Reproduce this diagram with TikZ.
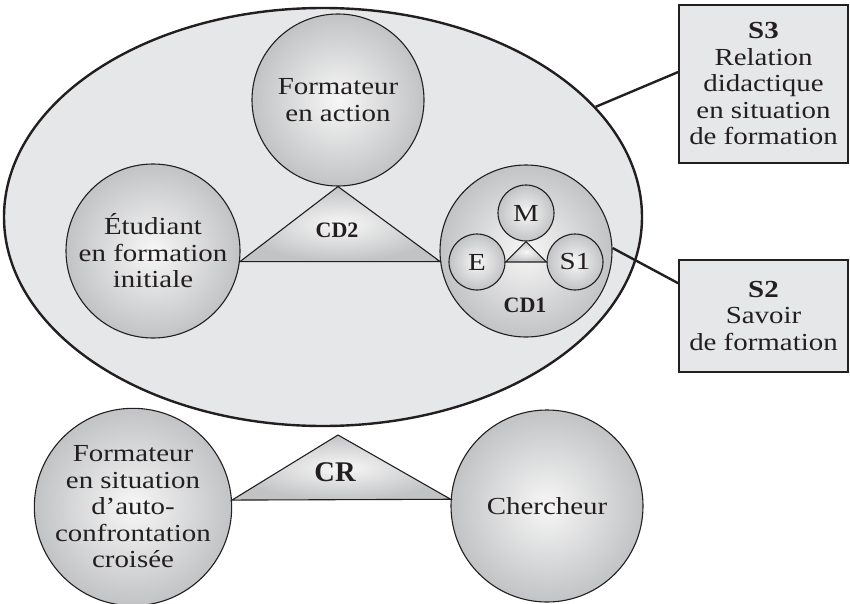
\documentclass[tikz,border=0pt]{standalone}
\usepackage{fontspec}
\setmainfont{Liberation Serif}
\newfontfamily\widefont{Liberation Serif}[FakeStretch=1.18]
\usetikzlibrary{shapes.geometric}

\definecolor{ink}{HTML}{231F20}
\definecolor{pale}{HTML}{E6E7E8}
\definecolor{rimgrey}{HTML}{C2C3C5}
\definecolor{glow}{HTML}{F7F7F7}

\tikzset{
  every node/.style={font=\widefont\fontsize{24.5}{26.5}\selectfont, text=ink},
  ball/.style={circle, draw=ink, line width=1.1pt, inner color=glow,
    outer color=rimgrey, inner sep=0pt, align=center},
  wedge/.style={draw=ink, line width=1.1pt, inner color=glow,
    outer color=rimgrey, line join=miter},
  tag/.style={font=\bfseries\fontsize{22}{24}\selectfont},
  labelbox/.style={rectangle, draw=ink, line width=1.6pt, fill=pale,
    inner sep=0pt, align=center},
  link/.style={draw=ink, line width=2.4pt},
}

\begin{document}
\begin{tikzpicture}[x=1pt, y=-1pt]
\useasboundingbox (0,0) rectangle (850,604);

% the training situation
\node[ellipse, draw=ink, line width=2.4pt, fill=pale, inner sep=0pt,
  minimum width=638pt, minimum height=418pt] (zone) at (323,217) {};

\node[ball, minimum size=172pt] (action) at (338,100) {Formateur\\en action};
\node[ball, minimum size=174pt] (etud) at (153,251) {Étudiant\\en formation\\initiale};
\node[ball, minimum size=172pt] (cd1) at (526,251) {};

% didactic triangle CD2
\draw[wedge] (action.south) -- (etud.-7) -- (cd1.187) -- cycle;
\node[tag] (cd2lbl) at (337,230) {CD2};

% inner didactic triangle CD1
\node[ball, minimum size=56pt] (m) at (526,213) {M};
\node[ball, minimum size=56pt] (e) at (477,262) {E};
\node[ball, minimum size=56pt] (s1) at (575,262) {S1};
\draw[wedge] (m.south) -- (e.east) -- (s1.west) -- cycle;
\node[tag] (cd1lbl) at (525,305) {CD1};

% research triangle CR
\node[ball, minimum size=192pt] (sit) at (133,507)
  {Formateur\\en situation\\d’auto-\\confrontation\\croisée};
\node[ball, minimum size=192pt] (cherch) at (547,506) {Chercheur};
\coordinate (crtop) at (338,435);
\draw[wedge] (crtop) -- (sit.4) -- (cherch.176) -- cycle;
\node[font=\bfseries\fontsize{28.5}{30}\selectfont] (crlbl) at (335,472) {CR};

% knowledge boxes
\node[labelbox, minimum width=169pt, minimum height=158pt] (s3) at (763.5,84)
  {\textbf{S3}\\Relation\\didactique\\en situation\\de formation};
\node[labelbox, minimum width=169pt, minimum height=112pt] (s2) at (763.5,316)
  {\textbf{S2}\\Savoir\\de formation};

\draw[link] (zone.22) -- (s3.172);
\draw[link] (cd1.2) -- (s2.159);
\end{tikzpicture}
\end{document}
